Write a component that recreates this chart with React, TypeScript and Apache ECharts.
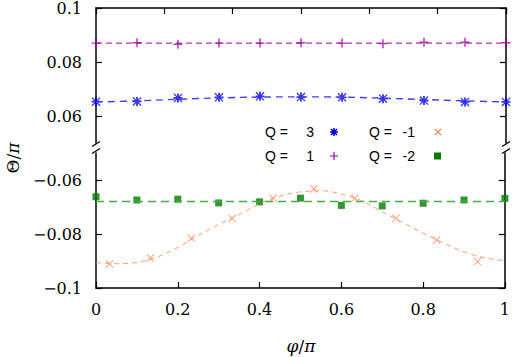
import React, { useEffect, useRef } from "react";
import * as echarts from "echarts";

// ---- data ----
const xGrid = [0, 0.1, 0.2, 0.3, 0.4, 0.5, 0.6, 0.7, 0.8, 0.9, 1.0];
const xShifted = [0.033, 0.133, 0.233, 0.333, 0.433, 0.533, 0.633, 0.733, 0.833, 0.933];
const xFine = [0, 0.05, 0.1, 0.15, 0.2, 0.25, 0.3, 0.35, 0.4, 0.45, 0.5, 0.55, 0.6, 0.65, 0.7, 0.75, 0.8, 0.85, 0.9, 0.95, 1.0];

const q3Values = [0.0653, 0.0654, 0.0667, 0.0669, 0.0673, 0.067, 0.0669, 0.0664, 0.0657, 0.0652, 0.0652];
const q3Fit = [0.0652, 0.0656, 0.0662, 0.0667, 0.067, 0.0671, 0.067, 0.0666, 0.0661, 0.0656, 0.0652];
const q1Values = [0.087, 0.0871, 0.0866, 0.087, 0.087, 0.0871, 0.087, 0.0868, 0.0873, 0.0873, 0.0871];
const q1FitX = [0, 1];
const q1Fit = [0.087, 0.087];
const qm1Values = [-0.0911, -0.0889, -0.0816, -0.0743, -0.0668, -0.0633, -0.0668, -0.0742, -0.0822, -0.0902];
const qm1Fit = [-0.0906, -0.091, -0.0905, -0.0885, -0.085, -0.0805, -0.0765, -0.0728, -0.0688, -0.066, -0.0644, -0.064, -0.0652, -0.0677, -0.0718, -0.0757, -0.0797, -0.0833, -0.0866, -0.0888, -0.0899];
const qm2Values = [-0.0662, -0.0674, -0.0671, -0.0685, -0.0681, -0.0667, -0.0694, -0.0696, -0.0686, -0.0674, -0.0668];
const qm2FitX = [0, 1];
const qm2Fit = [-0.068, -0.068];

const xTickLabels = [0, 0.2, 0.4, 0.6, 0.8, 1];
const topYTicks = [0.06, 0.08, 0.1];
const bottomYTicks = [-0.1, -0.08, -0.06];
const legendNames = ["3", "1", "-1", "-2"];

const SERIF = "DejaVu Serif";
const SANS = "Liberation Sans";
const FS = 16;

const PLUS = "path://M4.2,0 H5.8 V4.2 H10 V5.8 H5.8 V10 H4.2 V5.8 H0 V4.2 H4.2 Z";
const CROSS = "path://M0,0.8 L0.8,0 L10,9.2 L9.2,10 Z M9.2,0 L10,0.8 L0.8,10 L0,9.2 Z";
const STAR = "path://M4,0 H6 V4 H10 V6 H6 V10 H4 V6 H0 V4 H4 Z M0,1 L1,0 L10,9 L9,10 Z M9,0 L10,1 L1,10 L0,9 Z";

let registered = false;
function registerShapes() {
  if (registered) return;
  registered = true;
  echarts.graphic.registerShape("mkPlus", echarts.graphic.extendPath("M-4,0 L4,0 M0,-4 L0,4", {}) as any);
  echarts.graphic.registerShape("mkCross", echarts.graphic.extendPath("M-3,-3 L3,3 M3,-3 L-3,3", {}) as any);
  echarts.graphic.registerShape("mkStar", echarts.graphic.extendPath("M-4,0 L4,0 M0,-4 L0,4 M-3,-3 L3,3 M3,-3 L-3,3", {}) as any);
}

const pairs = (xs: number[], ys: number[]) => xs.map((x, i) => [x, ys[i]]);
const fmt = (v: number) => String(+v.toFixed(4)).replace("-", "\u2212");

export default function App() {
  const ref = useRef<HTMLDivElement>(null);
  useEffect(() => {
    if (!ref.current) return;
    registerShapes();
    const chart = echarts.init(ref.current, undefined, { renderer: "svg" });
    const axisLine = { show: true, lineStyle: { color: "#000", width: 1.5 } };
    const tick = (vals?: number[]) => ({ show: true, inside: true, length: 6, lineStyle: { color: "#000", width: 1.2 }, ...(vals ? { customValues: vals } : {}) });
    const label = (vals?: number[]) => ({ show: true, color: "#000", fontFamily: SERIF, fontSize: FS, formatter: (v: number) => fmt(v), ...(vals ? { customValues: vals } : {}) });
    const brk = (x: number) => [
      { type: "line", shape: { x1: x - 4, y1: 146.5, x2: x + 4, y2: 141.5 }, style: { stroke: "#000", lineWidth: 1.3 } },
      { type: "line", shape: { x1: x - 4, y1: 153.5, x2: x + 4, y2: 148.5 }, style: { stroke: "#000", lineWidth: 1.3 } },
    ];
    const txt = (x: number, y: number, text: string, align: string, family: string, size: number) => ({
      type: "text", x, y,
      style: { text, fontFamily: family, fontSize: size, fill: "#000", align, verticalAlign: "middle" },
    });
    const italicRich = { i: { fontStyle: "italic", fontSize: FS + 1, fontFamily: SERIF, fill: "#000" }, n: { fontSize: FS + 1, fontFamily: SERIF, fill: "#000" } };
    const option: any = {
      animation: false,
      backgroundColor: "#fff",
      textStyle: { fontFamily: SERIF },
      grid: [
        { left: 96, right: 7, top: 8, height: 135 },
        { left: 96, right: 7, top: 153, height: 135 },
      ],
      xAxis: [
        { gridIndex: 0, type: "value", min: 0, max: 1, interval: 1 / 6, position: "top", axisLine, axisTick: tick(), axisLabel: { show: false }, splitLine: { show: false } },
        {
          gridIndex: 1, type: "value", min: 0, max: 1, interval: 0.2, position: "bottom", axisLine, axisTick: tick(),
          axisLabel: { ...label(xTickLabels), margin: 13 }, splitLine: { show: false },
        },
      ],
      yAxis: [
        { gridIndex: 0, type: "value", min: 0.05, max: 0.1, position: "left", axisLine, axisTick: tick(topYTicks), axisLabel: { ...label(topYTicks), margin: 14 }, splitLine: { show: false } },
        { gridIndex: 1, type: "value", min: -0.1, max: -0.05, position: "left", axisLine, axisTick: tick(bottomYTicks), axisLabel: { ...label(bottomYTicks), margin: 14 }, splitLine: { show: false } },
        { gridIndex: 0, type: "value", min: 0.05, max: 0.1, position: "right", axisLine, axisTick: tick(topYTicks), axisLabel: { show: false }, splitLine: { show: false } },
        { gridIndex: 1, type: "value", min: -0.1, max: -0.05, position: "right", axisLine, axisTick: tick(bottomYTicks), axisLabel: { show: false }, splitLine: { show: false } },
      ],
      series: [
        { name: "Q=1 fit", type: "line", xAxisIndex: 0, yAxisIndex: 0, data: pairs(q1FitX, q1Fit), showSymbol: false, lineStyle: { color: "#a000a0", width: 1, type: [6, 4] } },
        { name: "Q = 1", type: "scatter", xAxisIndex: 0, yAxisIndex: 0, data: pairs(xGrid, q1Values), symbol: PLUS, symbolSize: 9, clip: false, itemStyle: { color: "#a000a0" } },
        { name: "Q=3 fit", type: "line", xAxisIndex: 0, yAxisIndex: 0, data: pairs(xGrid, q3Fit), smooth: 0.4, showSymbol: false, lineStyle: { color: "#4040ff", width: 1.4, type: [7, 5] } },
        { name: "Q = 3", type: "scatter", xAxisIndex: 0, yAxisIndex: 0, data: pairs(xGrid, q3Values), symbol: STAR, symbolSize: 9, clip: false, itemStyle: { color: "#0000e6" } },
        { name: "Q=-2 fit", type: "line", xAxisIndex: 1, yAxisIndex: 1, data: pairs(qm2FitX, qm2Fit), showSymbol: false, lineStyle: { color: "#44b044", width: 1.5, type: [8, 5] } },
        { name: "Q=-1 fit", type: "line", xAxisIndex: 1, yAxisIndex: 1, data: pairs(xFine, qm1Fit), smooth: 0.4, showSymbol: false, lineStyle: { color: "#ff9a70", width: 1, type: [5, 4] } },
        { name: "Q = -2", type: "scatter", xAxisIndex: 1, yAxisIndex: 1, data: pairs(xGrid, qm2Values), symbol: "rect", symbolSize: 7, clip: false, itemStyle: { color: "#007a00" } },
        { name: "Q = -1", type: "scatter", xAxisIndex: 1, yAxisIndex: 1, data: pairs(xShifted, qm1Values), symbol: CROSS, symbolSize: 8, clip: false, itemStyle: { color: "#ff7f50" } },
      ],
      graphic: [
        ...brk(96),
        ...brk(506),
        {
          type: "text", x: 13, y: 158, rotation: Math.PI / 2,
          style: { text: "{n|\u0398/}{i|\u03c0}", fontFamily: SERIF, fontSize: FS + 1, fill: "#000", align: "center", verticalAlign: "middle", rich: italicRich },
        },
        {
          type: "text", x: 301, y: 346,
          style: { text: "{i|\u03c6}{n|/}{i|\u03c0}", fontFamily: SERIF, fontSize: FS + 1, fill: "#000", align: "center", verticalAlign: "middle", rich: italicRich },
        },
        txt(265, 132, "Q =", "left", SANS, 14),
        txt(314, 132, legendNames[0], "right", SANS, 14),
        txt(265, 156, "Q =", "left", SANS, 14),
        txt(314, 156, legendNames[1], "right", SANS, 14),
        txt(369, 132, "Q =", "left", SANS, 14),
        txt(415, 132, legendNames[2], "right", SANS, 14),
        txt(369, 156, "Q =", "left", SANS, 14),
        txt(415, 156, legendNames[3], "right", SANS, 14),
        { type: "mkStar", x: 334, y: 132, style: { stroke: "#0000e6", lineWidth: 1.6, fill: null } },
        { type: "mkPlus", x: 334, y: 156, style: { stroke: "#a000a0", lineWidth: 1.2, fill: null } },
        { type: "mkCross", x: 438, y: 132, style: { stroke: "#ff7f50", lineWidth: 1.1, fill: null } },
        { type: "rect", shape: { x: 434, y: 152.5, width: 7, height: 7 }, style: { fill: "#007a00" } },
      ],
    };
    chart.setOption(option);
    return () => chart.dispose();
  }, []);
  return <div ref={ref} style={{ position: "fixed", left: 0, top: 0, width: 513, height: 357, background: "#fff" }} />;
}
